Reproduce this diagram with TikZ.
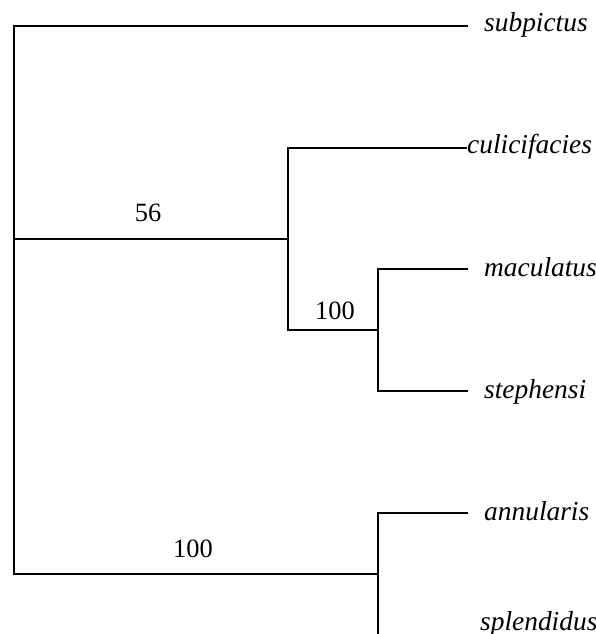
\documentclass[tikz,border=0pt]{standalone}
\usepackage{fontspec}
\setmainfont{Liberation Serif}[ItalicFont={Liberation Serif Italic}]
\begin{document}
\begin{tikzpicture}[x=1bp,y=-1bp,
  branch/.style={line width=1.5bp,line cap=rect},
  taxon/.style={anchor=base west,inner sep=0pt,font=\fontsize{27.5}{30}\selectfont\itshape},
  support/.style={anchor=base,inner sep=0pt,font=\fontsize{26.5}{30}\selectfont}]
\useasboundingbox (0,0) rectangle (596,634);
% internal nodes
\coordinate (r) at (14,239);
\coordinate (rt) at (14,26);
\coordinate (rb) at (14,574);
\coordinate (n1) at (288,239);
\coordinate (n1t) at (288,148);
\coordinate (n1b) at (288,330);
\coordinate (n2) at (378,330);
\coordinate (n2t) at (378,269);
\coordinate (n2b) at (378,391);
\coordinate (n3) at (378,574);
\coordinate (n3t) at (378,513);
\coordinate (n3b) at (378,634);
% leaf ends
\coordinate (e1) at (467,26);
\coordinate (e2) at (466,148);
\coordinate (e3) at (467,269);
\coordinate (e4) at (467,391);
\coordinate (e5) at (467,513);
% taxa
\node[taxon] (subpictus) at (484,32) {subpictus};
\node[taxon] (culicifacies) at (467,154) {culicifacies};
\node[taxon] (maculatus) at (484,276) {maculatus};
\node[taxon] (stephensi) at (484,398) {stephensi};
\node[taxon] (annularis) at (484,520) {annularis};
\node[taxon] (splendidus) at (480,630) {splendidus};
% support values
\node[support] (s56) at (148,221) {56};
\node[support] (s100a) at (335,319) {100};
\node[support] (s100b) at (193,557) {100};
% branches
\draw[branch] (rt) -- (rb);
\draw[branch] (rt) -- (e1);
\draw[branch] (r) -- (n1);
\draw[branch] (rb) -- (n3);
\draw[branch] (n1t) -- (n1b);
\draw[branch] (n1t) -- (e2);
\draw[branch] (n1b) -- (n2);
\draw[branch] (n2t) -- (n2b);
\draw[branch] (n2t) -- (e3);
\draw[branch] (n2b) -- (e4);
\draw[branch] (n3t) -- (n3b);
\draw[branch] (n3t) -- (e5);
\end{tikzpicture}
\end{document}
